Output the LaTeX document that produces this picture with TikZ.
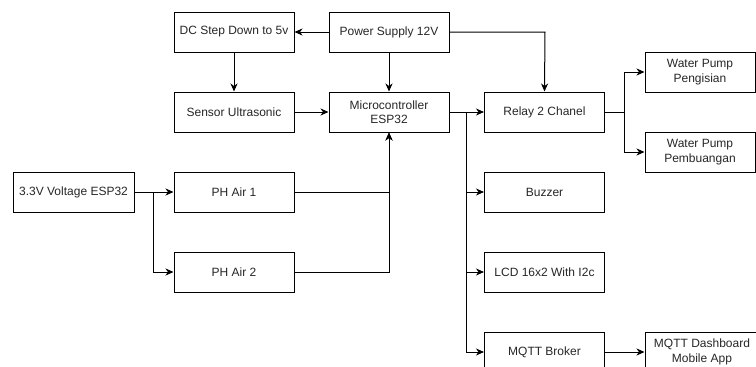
\documentclass[tikz,border=0pt]{standalone}
\usepackage{fontspec}
\setmainfont{Liberation Sans}
\usetikzlibrary{arrows.meta}
\begin{document}
\begin{tikzpicture}[x=1pt,y=-1pt,
  blk/.style={draw=black, line width=1pt, rectangle, minimum width=120pt, minimum height=40pt,
    inner sep=2pt, align=center, font=\fontsize{12}{14.5}\selectfont, text=black!85},
  narrow/.style={blk, minimum width=110pt},
  conn/.style={draw=black, line width=1pt},
  arr/.style={conn, -{Stealth[length=8pt,width=7pt,inset=2.5pt]}}]
\useasboundingbox (0,0) rectangle (756,367);
\node[blk] (dc) at (234,32) {DC Step Down to 5v};
\node[blk] (ps) at (389,32) {Power Supply 12V};
\node[blk] (su) at (234,112) {Sensor Ultrasonic};
\node[blk] (mc) at (389,112) {Microcontroller\\ESP32};
\node[blk] (relay) at (544.5,112) {Relay 2 Chanel};
\node[narrow] (wp1) at (700,72) {Water Pump\\Pengisian};
\node[narrow] (wp2) at (700,152) {Water Pump\\Pembuangan};
\node[blk, minimum width=121pt] (v33) at (73.5,192) {3.3V Voltage ESP32};
\node[blk] (ph1) at (234,192) {PH Air 1};
\node[blk] (ph2) at (234,272) {PH Air 2};
\node[blk] (buz) at (544.5,192) {Buzzer};
\node[blk] (lcd) at (544.5,272) {LCD 16x2 With I2c};
\node[blk] (mqtt) at (544.5,352) {MQTT Broker};
\node[narrow, minimum width=114pt] (dash) at (702,352) {MQTT Dashboard\\Mobile App};
\coordinate (psr) at (545,32);
\coordinate (j1) at (466,112);
\coordinate (j2) at (624,112);
\coordinate (j3) at (153,192);
\draw[arr] (ps.west) -- (dc.east);
\draw[arr] (ps.east) -- (psr) -- (relay.north);
\draw[arr] (ps.south) -- (mc.north);
\draw[arr] (dc.south) -- (su.north);
\draw[arr] (su.east) -- (mc.west);
\draw[arr] (mc.east) -- (relay.west);
\draw[arr] (j1) |- (buz.west);
\draw[arr] (j1) |- (lcd.west);
\draw[arr] (j1) |- (mqtt.west);
\draw[arr] (relay.east) -- (j2) |- (wp1.west);
\draw[arr] (j2) |- (wp2.west);
\draw[arr] (v33.east) -- (ph1.west);
\draw[arr] (j3) |- (ph2.west);
\draw[arr] (ph1.east) -| (mc.south);
\draw[arr] (ph2.east) -| (mc.south);
\draw[arr] (mqtt.east) -- (dash.west);
\end{tikzpicture}
\end{document}
